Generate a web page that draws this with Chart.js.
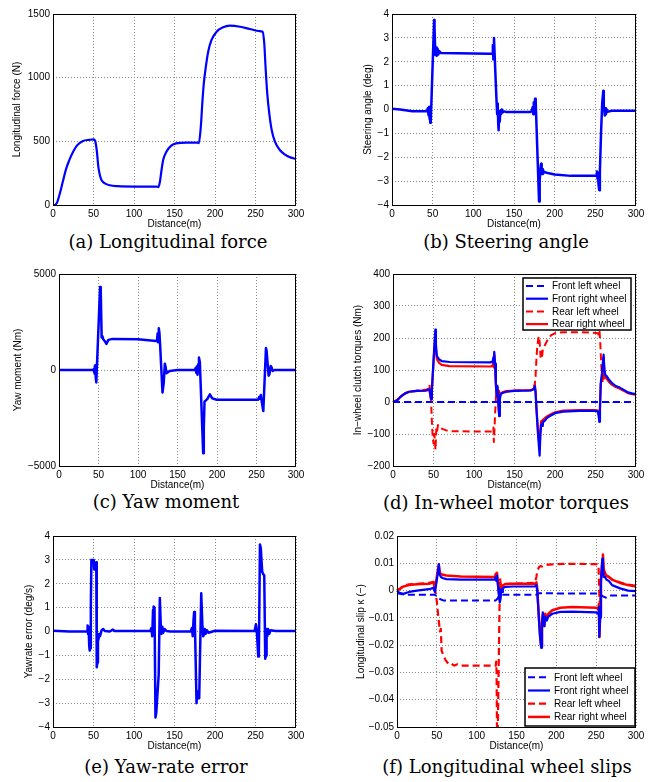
<!DOCTYPE html>
<html><head><meta charset="utf-8">
<script src="https://cdn.jsdelivr.net/npm/chart.js@4"></script>
<style>
html,body{margin:0;padding:0;background:#fff;}
body{width:655px;height:782px;position:relative;overflow:hidden;}
canvas{position:absolute;}
.cap{position:absolute;font-family:"DejaVu Serif";font-size:18px;line-height:22px;color:#000;white-space:nowrap;transform:translateX(-50%);}
</style></head><body>
<div class="cap" style="left:168px;top:231px">(a) Longitudinal force</div>
<div class="cap" style="left:506px;top:231px">(b) Steering angle</div>
<div class="cap" style="left:166px;top:491px">(c) Yaw moment</div>
<div class="cap" style="left:506px;top:492px">(d) In-wheel motor torques</div>
<div class="cap" style="left:166px;top:756px">(e) Yaw-rate error</div>
<div class="cap" style="left:507px;top:756px">(f) Longitudinal wheel slips</div>
<script>
// ---------- shared ticks ----------
const xTicks = [0, 50, 100, 150, 200, 250, 300];
const xTickLabels = ['0', '50', '100', '150', '200', '250', '300'];
const xTitle = 'Distance(m)';
const wheelNames = ['Front left wheel', 'Front right wheel', 'Rear left wheel', 'Rear right wheel'];

// ---------- (a) Longitudinal force ----------
const aDist  = [0, 2, 5, 8, 12, 16, 20, 25, 30, 37, 45, 50, 52, 54, 56, 58, 60, 64, 70, 80, 100, 125, 128, 130, 132, 134, 136, 140, 146, 152, 165, 178, 180, 182.5, 184.6, 186.2, 188.7, 191.6, 195.7, 202, 210, 218, 231, 243, 255, 258.7, 260.8, 262.4, 264.5, 267, 270, 274, 280, 286, 293, 300];
const aForce = [0, 0, 20, 80, 180, 280, 350, 420, 470, 503, 512, 515, 505, 430, 300, 232, 195, 170, 155, 148, 145, 145, 145, 140, 183, 275, 353, 419, 466, 484, 490, 490, 485, 615, 825, 955, 1086, 1204, 1296, 1361, 1395, 1408, 1400, 1382, 1366, 1361, 1270, 1086, 877, 720, 589, 497, 432, 398, 374, 361];
const aYTicks = [0, 500, 1000, 1500];
const aYTickLabels = ['0', '500', '1000', '1500'];

// ---------- (b) Steering angle ----------
const bDist  = [0, 10, 25, 43, 44, 45, 45.5, 46, 46.5, 47, 47.7, 51.8, 52.3, 53.3, 54.2, 55, 56, 57, 58, 60, 80, 120, 123, 124, 124.6, 125.4, 126.2, 127.5, 128.6, 129.3, 130, 130.6, 131.1, 131.8, 132.5, 133.2, 134, 135, 136, 138, 140, 170, 172, 173, 173.6, 174.3, 175, 175.9, 176.7, 180.8, 181.6, 182.4, 183.3, 184, 184.8, 185.6, 187, 190, 200, 220, 251, 252, 252.6, 253.2, 253.8, 254.8, 255.6, 257, 258.5, 259.8, 260.4, 261, 261.6, 262.3, 263, 264, 265, 270, 300];
const bSteer = [0.03, 0.0, -0.07, -0.07, 0.05, -0.25, 0.1, -0.4, 0.0, -0.55, -0.45, 3.75, 3.4, 2.28, 2.6, 2.25, 2.55, 2.3, 2.45, 2.37, 2.36, 2.34, 2.35, 2.7, 2.1, 3.0, 2.3, 1.2, 0.3, -0.2, 0.25, -0.6, -0.87, -0.2, -0.5, -0.05, -0.2, 0.0, -0.12, -0.08, -0.1, -0.1, -0.05, 0.1, -0.2, 0.3, -0.1, 0.45, 0.3, -3.85, -3.0, -2.5, -2.27, -2.7, -2.5, -2.7, -2.6, -2.65, -2.72, -2.78, -2.78, -2.6, -2.9, -2.65, -3.1, -3.38, -2.6, -1.0, 0.3, 0.78, 0.1, 0.0, -0.25, 0.05, -0.2, 0.0, -0.1, -0.05, -0.05];
const bYTicks = [-4, -3, -2, -1, 0, 1, 2, 3, 4];
const bYTickLabels = ['\u22124', '\u22123', '\u22122', '\u22121', '0', '1', '2', '3', '4'];

// ---------- (c) Yaw moment ----------
const cDist   = [0, 43, 44, 44.5, 45, 45.5, 46, 46.5, 47.2, 52, 52.8, 54, 55, 56, 58, 60, 62.5, 68, 100, 123, 124, 124.8, 125.5, 126.3, 127.2, 128, 131, 132.5, 134, 135, 136, 140, 150, 172, 173, 173.8, 174.6, 175.4, 176.2, 177.2, 178.3, 182.5, 183.3, 184.2, 187.6, 191, 194, 199.5, 230, 252, 253.5, 254.5, 255.5, 256.5, 258.6, 262, 262.8, 265.3, 266.5, 268, 269, 270.5, 273, 300];
const cMoment = [0, 0, 50, -100, 200, -200, 250, -400, -650, 4320, 4200, 1690, 1750, 1600, 1500, 1360, 1570, 1620, 1600, 1515, 1500, 1900, 1450, 2180, 1900, 1300, -1170, -700, 330, 150, -175, -50, 0, 0, 100, -150, 200, -250, 300, 645, 400, -4340, -3000, -1650, -1515, -1270, -1480, -1550, -1550, -1550, -1400, -1500, -1300, -1600, -2140, 1150, 1000, -300, -200, 210, 150, -50, 0, 0];
const cYTicks = [-5000, 0, 5000];
const cYTickLabels = ['\u22125000', '0', '5000'];

// ---------- (d) In-wheel motor torques ----------
const dFLDist = [0, 300];
const dFL     = [0, 0];
const dDist = [0, 5, 10, 15, 20, 30, 40, 45, 46, 47, 48, 50, 52.3, 53, 54, 55, 57, 60, 70, 120, 123, 124, 124.5, 125, 126, 127, 128, 129, 130, 131, 132, 133, 135, 140, 150, 170, 174, 175, 176, 177, 179, 181, 182, 183, 184, 185, 187, 190, 195, 200, 210, 230, 250, 253, 254, 254.7, 255.5, 256.5, 258, 260, 261, 262, 264, 266, 270, 275, 280, 285, 290, 295, 300];
const dFR   = [0, 5, 18, 27, 32, 35, 36, 40, 25, 10, 40, 130, 226, 180, 145, 140, 133, 128, 125, 124, 126, 140, 120, 157, 120, 60, 20, 50, 0, -44, 10, 25, 28, 32, 35, 36, 40, 50, 30, -20, -100, -168, -100, -70, -75, -62, -60, -50, -42, -35, -30, -28, -28, -30, -45, -62, -20, 60, 90, 148, 100, 85, 80, 72, 60, 50, 45, 38, 30, 27, 25];
const dRR   = [0, 6, 18, 27, 32, 35, 35, 38, 20, 8, 35, 120, 215, 170, 138, 130, 122, 116, 112, 111, 113, 130, 108, 148, 110, 50, 15, 45, -5, -35, 15, 27, 30, 34, 36, 37, 42, 55, 35, -10, -90, -140, -85, -60, -68, -55, -52, -45, -38, -32, -27, -25, -25, -27, -40, -55, -15, 55, 80, 140, 95, 78, 72, 65, 55, 47, 42, 35, 28, 25, 22];
const dRLDist = [0, 5, 10, 15, 20, 30, 40, 44, 45, 46, 47, 48, 49, 50, 51, 52.5, 53.5, 54.5, 55.5, 57, 60, 65, 70, 100, 123, 124, 124.5, 125.2, 126, 127, 128, 129, 130, 131, 132, 133, 140, 150, 170, 174, 175, 176, 177, 178, 179.5, 180.5, 181.5, 182.3, 183, 184, 185, 187, 190, 195, 200, 210, 230, 250, 253, 254, 255, 256, 257, 258, 259, 260, 261, 262, 264, 266, 270, 275, 280, 285, 290, 295, 300];
const dRL     = [0, 6, 18, 27, 33, 36, 38, 42, 55, 30, 0, -60, -110, -130, -100, -150, -80, -90, -72, -80, -83, -88, -91, -92, -92, -80, -125, -90, -40, 10, 60, 30, 25, 35, 20, 28, 33, 35, 37, 40, 55, 80, 130, 170, 200, 205, 170, 135, 158, 140, 165, 175, 190, 208, 215, 218, 218, 216, 215, 208, 220, 180, 120, 80, 60, 75, 100, 75, 70, 65, 55, 47, 42, 35, 28, 25, 22];
const dYTicks = [-200, -100, 0, 100, 200, 300, 400];
const dYTickLabels = ['\u2212200', '\u2212100', '0', '100', '200', '300', '400'];

// ---------- (e) Yaw-rate error ----------
const eDist = [0, 20, 42, 42.7, 43.3, 44, 44.7, 45.3, 46, 46.7, 47.4, 48.5, 49.5, 50.3, 50.8, 51.3, 52.3, 53.4, 54, 54.8, 55.5, 56.3, 57, 58, 60, 62, 64, 70, 74, 76, 120, 121.5, 122.5, 123.5, 124.3, 125.3, 126.5, 127.5, 130.5, 131.9, 133, 134, 135, 136, 138, 140, 145, 170, 171.5, 172.5, 173.5, 174.3, 175.2, 177.2, 178, 179.5, 180.5, 183, 184.5, 185.5, 186.5, 187.5, 188.5, 190, 192, 200, 249, 250.5, 251.5, 253.4, 254.2, 255.5, 256.5, 258.3, 259.5, 260.8, 262, 263, 263.7, 264.5, 265.5, 267, 268.5, 275, 300];
const eErr  = [0.03, 0.0, 0.0, 0.25, -0.1, 0.2, -0.6, -0.8, -0.7, 1.0, 3.0, 2.95, 3.0, 2.95, 2.6, 2.9, 2.85, 2.9, -1.5, -1.3, -0.4, -0.3, -0.1, -0.2, 0.05, 0.1, 0.02, 0.0, 0.08, 0.02, 0.02, 0.15, -0.2, 0.9, 1.05, 1.0, -3.6, -3.4, -1.8, 1.4, 0.3, -0.1, 0.2, -0.05, 0.1, 0.02, 0.0, 0.0, 0.15, -0.2, 0.5, 0.82, 0.3, -3.0, -2.5, -2.8, -2.8, 1.6, 0.2, -0.2, -0.1, 0.1, -0.1, 0.05, -0.05, 0.03, 0.02, 0.3, 0.1, -1.05, -0.9, 3.64, 3.5, 2.5, 2.4, 2.35, -1.14, -1.0, 0.1, -0.2, 0.1, -0.1, 0.05, 0.02, 0.02];
const eYTicks = [-4, -3, -2, -1, 0, 1, 2, 3, 4];
const eYTickLabels = ['\u22124', '\u22123', '\u22122', '\u22121', '0', '1', '2', '3', '4'];

// ---------- (f) Longitudinal wheel slips ----------
const fFLDist = [0, 10, 47, 50, 53, 58, 124, 126, 128, 131, 175, 178, 254, 258, 262, 266, 300];
const fFL     = [-0.001, -0.0015, -0.0015, -0.002, -0.003, -0.0036, -0.0036, -0.003, -0.002, -0.0015, -0.0015, -0.001, -0.0011, -0.002, -0.0026, -0.0018, -0.0018];
const fDist = [0, 3, 8, 15, 25, 40, 46, 47.5, 49, 51, 52.5, 53.5, 55, 58, 62, 80, 123, 124, 124.8, 125.5, 127, 128, 129, 130, 131, 132, 133, 136, 145, 173, 175, 176, 178, 179.5, 181, 182, 183, 184, 185, 186, 188, 190, 195, 205, 220, 250, 252.5, 253.3, 254, 255, 256, 257.7, 258.5, 259.5, 261, 263, 266, 270, 280, 290, 300];
const fFR   = [0, -0.0008, -0.0012, -0.0005, 0, 0.0005, 0.001, -0.0005, 0.002, 0.006, 0.0097, 0.006, 0.005, 0.0045, 0.0042, 0.004, 0.004, 0.005, 0.0035, 0.0055, 0.001, -0.002, -0.0044, -0.003, 0.0005, -0.0005, 0.001, 0.0013, 0.0015, 0.0015, 0.002, 0, -0.01, -0.017, -0.021, -0.013, -0.008, -0.0105, -0.013, -0.0095, -0.011, -0.0095, -0.0085, -0.0078, -0.0077, -0.008, -0.0085, -0.006, -0.017, -0.01, 0.003, 0.0117, 0.009, 0.005, 0.005, 0.004, 0.0035, 0.002, 0.0008, 0, -0.0002];
const fRR   = [0, 0.0005, 0.0015, 0.002, 0.0023, 0.0025, 0.003, 0, 0.003, 0.007, 0.0095, 0.007, 0.006, 0.0058, 0.0055, 0.0052, 0.005, 0.0062, 0.004, 0.0065, 0.002, -0.001, -0.003, -0.001, 0.0015, 0.001, 0.002, 0.0023, 0.0025, 0.0025, 0.003, 0.001, -0.009, -0.016, -0.0205, -0.012, -0.009, -0.012, -0.013, -0.0085, -0.01, -0.0085, -0.0072, -0.0063, -0.006, -0.0063, -0.0068, -0.005, -0.017, -0.009, 0.004, 0.011, 0.0132, 0.008, 0.0065, 0.0055, 0.005, 0.004, 0.0028, 0.002, 0.0015];
const fRLDist = [0, 3, 8, 15, 25, 40, 46, 48, 50, 52, 54, 55, 56, 58, 61, 65, 68, 72, 76, 80, 124, 124.5, 125, 125.6, 126.3, 129.2, 130.5, 132, 140, 173, 175, 176, 178, 180, 182, 185, 190, 200, 220, 252, 253, 254, 255, 256, 258, 259, 260, 261, 263, 266, 270, 280, 290, 300];
const fRL     = [0, 0.0005, 0.0018, 0.0023, 0.0025, 0.0028, 0.0032, 0.0, -0.004, -0.01, -0.015, -0.014, -0.022, -0.0235, -0.0255, -0.027, -0.0268, -0.0275, -0.027, -0.0275, -0.0275, -0.026, -0.03, -0.056, -0.056, 0.0045, 0.002, 0.0025, 0.0025, 0.0028, 0.005, 0.007, 0.0085, 0.009, 0.0088, 0.0093, 0.0095, 0.0097, 0.0098, 0.0097, 0.009, -0.002, -0.008, 0.004, 0.01, 0.008, 0.006, 0.0062, 0.0055, 0.005, 0.004, 0.003, 0.0022, 0.0018];
const fYTicks = [-0.05, -0.04, -0.03, -0.02, -0.01, 0, 0.01, 0.02];
const fYTickLabels = ['\u22120.05', '\u22120.04', '\u22120.03', '\u22120.02', '\u22120.01', '0', '0.01', '0.02'];

// ---------- rendering ----------
Chart.defaults.font.family = '"Liberation Sans", Arial, sans-serif';
Chart.defaults.font.size = 10;
Chart.defaults.color = '#000';

const BLUE = '#0000ff', RED = '#ff0000';
const pts = (xs, ys) => xs.map((x, i) => ({x: x, y: ys[i]}));

const framePlugin = {
  id: 'frame',
  afterDraw(chart, args, opts) {
    const {ctx, chartArea: a} = chart;
    ctx.save();
    ctx.strokeStyle = '#000';
    ctx.lineWidth = 1;
    ctx.setLineDash([]);
    ctx.strokeRect(a.left + 0.5, a.top + 0.5, a.right - a.left - 1, a.bottom - a.top);
    const lg = opts && opts.legend;
    if (lg) {
      const bx = a.right - lg.dx - lg.w;
      const by = lg.anchor === 'top' ? a.top + lg.dy : a.bottom - lg.dy - lg.h;
      ctx.fillStyle = '#fff';
      ctx.fillRect(bx, by, lg.w, lg.h);
      ctx.lineWidth = 1.5;
      ctx.strokeRect(bx, by, lg.w, lg.h);
      ctx.font = '10px "Liberation Sans", Arial, sans-serif';
      ctx.textBaseline = 'middle';
      ctx.textAlign = 'left';
      chart.data.datasets.forEach((ds, i) => {
        const y = by + lg.row0 + i * lg.step;
        ctx.beginPath();
        ctx.strokeStyle = ds.borderColor;
        ctx.lineWidth = ds.borderWidth;
        ctx.setLineDash(ds.borderDash || []);
        ctx.moveTo(bx + 3, y);
        ctx.lineTo(bx + 25, y);
        ctx.stroke();
        ctx.setLineDash([]);
        ctx.fillStyle = '#000';
        ctx.fillText(ds.label, bx + 29, y + 0.5);
      });
    }
    ctx.restore();
  }
};

function makeChart(p, datasets, yRange, yTickVals, yTickLabels, yTitle, legend) {
  const cv = document.createElement('canvas');
  const left = p.yt - 6, top = p.T - 12;
  const w = p.R + 14 - left, h = p.xt + 6 - top;
  cv.width = w; cv.height = h;
  cv.style.left = left + 'px'; cv.style.top = top + 'px';
  cv.style.width = w + 'px'; cv.style.height = h + 'px';
  document.body.appendChild(cv);
  const yW = p.L - left, xH = p.xt + 6 - p.B;
  const gridCommon = {color: '#8c8c8c', lineWidth: 1, drawTicks: false};
  new Chart(cv, {
    type: 'line',
    data: {datasets: datasets},
    options: {
      responsive: false, animation: false, devicePixelRatio: 1,
      layout: {padding: {left: 0, top: 12, right: 14, bottom: 0}},
      plugins: {legend: {display: false}, tooltip: {enabled: false}, frame: {legend: legend || null}},
      elements: {point: {radius: 0}, line: {borderJoinStyle: 'round', tension: 0}},
      scales: {
        x: {
          type: 'linear', min: 0, max: 300,
          afterBuildTicks: s => { s.ticks = xTicks.map(v => ({value: v})); },
          afterFit: s => { s.height = xH; },
          ticks: {callback: (v, i) => xTickLabels[i], padding: 3, maxRotation: 0, autoSkip: false},
          grid: gridCommon, border: {display: false, dash: [1, 2]},
          title: {display: true, text: xTitle, padding: {top: 0, bottom: 0}}
        },
        y: {
          type: 'linear', min: yRange[0], max: yRange[1],
          afterBuildTicks: s => { s.ticks = yTickVals.map(v => ({value: v})); },
          afterFit: s => { s.width = yW; },
          ticks: {callback: (v, i) => yTickLabels[i], padding: 3, autoSkip: false},
          grid: gridCommon, border: {display: false, dash: [1, 2]},
          title: {display: true, text: yTitle, padding: {top: 0, bottom: 0}}
        }
      }
    },
    plugins: [framePlugin]
  });
}

const line = (label, xs, ys, color, width, dash, extra) => Object.assign({
  label: label, data: pts(xs, ys), borderColor: color, backgroundColor: color,
  borderWidth: width, borderDash: dash || [], fill: false, clip: 1
}, extra || {});

makeChart({L: 53, T: 14, R: 296, B: 205, yt: 17, xt: 224},
  [line('Longitudinal force', aDist, aForce, BLUE, 2.2, null, {cubicInterpolationMode: 'monotone'})],
  [0, 1500], aYTicks, aYTickLabels, 'Longitudinal force (N)');

makeChart({L: 392, T: 14, R: 636, B: 205, yt: 368, xt: 224},
  [line('Steering angle', bDist, bSteer, BLUE, 2.5)],
  [-4, 4], bYTicks, bYTickLabels, 'Steering angle (deg)');

makeChart({L: 59, T: 274, R: 296, B: 466, yt: 18, xt: 485},
  [line('Yaw moment', cDist, cMoment, BLUE, 2.5)],
  [-5000, 5000], cYTicks, cYTickLabels, 'Yaw moment (Nm)');

makeChart({L: 393, T: 274, R: 636, B: 466, yt: 358, xt: 485},
  [line(wheelNames[0], dFLDist, dFL, BLUE, 2, [7, 4]),
   line(wheelNames[1], dDist, dFR, BLUE, 2.2),
   line(wheelNames[2], dRLDist, dRL, RED, 2, [7, 4]),
   line(wheelNames[3], dDist, dRR, RED, 2.2)],
  [-200, 400], dYTicks, dYTickLabels, 'In\u2212wheel clutch torques (Nm)',
  {anchor: 'top', dx: 5, dy: 4, w: 108, h: 52, row0: 8, step: 12.7});

makeChart({L: 53, T: 536, R: 296, B: 727, yt: 29, xt: 746},
  [line('Yaw-rate error', eDist, eErr, BLUE, 2.5)],
  [-4, 4], eYTicks, eYTickLabels, 'Yawrate error (deg/s)');

makeChart({L: 397, T: 536, R: 636, B: 727, yt: 361, xt: 746},
  [line(wheelNames[0], fFLDist, fFL, BLUE, 2, [7, 4]),
   line(wheelNames[1], fDist, fFR, BLUE, 2.2),
   line(wheelNames[2], fRLDist, fRL, RED, 2.2, [7, 4]),
   line(wheelNames[3], fDist, fRR, RED, 2.5)],
  [-0.05, 0.02], fYTicks, fYTickLabels, 'Longitudinal slip \u03ba (\u2212)',
  {anchor: 'bottom', dx: 1, dy: 1, w: 110, h: 58, row0: 9.3, step: 13.2});
</script>
</body></html>
